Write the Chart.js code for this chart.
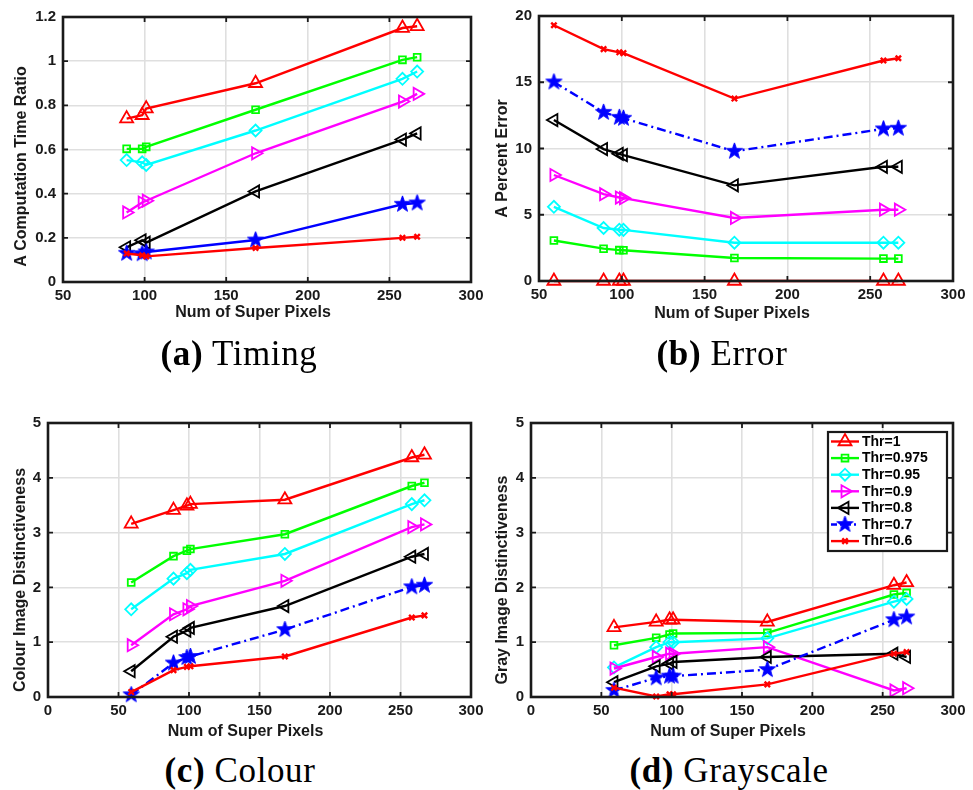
<!DOCTYPE html>
<html>
<head>
<meta charset="utf-8">
<script src="https://cdn.jsdelivr.net/npm/chart.js@4.4.1/dist/chart.umd.min.js"></script>
<style>
  html, body { margin: 0; padding: 0; background: #fff; }
  #page { position: relative; width: 973px; height: 790px; overflow: hidden; background: #fff; }
  #page canvas { position: absolute; }
  .cap {
    position: absolute;
    font-family: 'Liberation Serif', 'Times New Roman', serif;
    font-size: 35px;
    letter-spacing: 0.6px;
    line-height: 40px;
    color: #000;
    white-space: nowrap;
    transform: translateX(-50%);
  }
</style>
</head>
<body>
<div id="page">
  <canvas id="timingChart" width="490" height="340" style="left:0px;top:0px"></canvas>
  <canvas id="errorChart" width="493" height="340" style="left:480px;top:0px"></canvas>
  <canvas id="colourChart" width="490" height="350" style="left:0px;top:400px"></canvas>
  <canvas id="grayChart" width="493" height="350" style="left:480px;top:400px"></canvas>
  <div class="cap" style="left:239px;top:334px"><b>(a)</b> Timing</div>
  <div class="cap" style="left:722px;top:334px"><b>(b)</b> Error</div>
  <div class="cap" style="left:240px;top:751px"><b>(c)</b> Colour</div>
  <div class="cap" style="left:729px;top:751px"><b>(d)</b> Grayscale</div>
</div>
<script>
// number of super pixels on the x axis
const superPixels = [59, 89, 98.5, 101, 168, 258, 267];
const timingPixels = superPixels.slice(1);   // timing runs skip the smallest size

const thrLabels = ['Thr=1', 'Thr=0.975', 'Thr=0.95', 'Thr=0.9', 'Thr=0.8', 'Thr=0.7', 'Thr=0.6'];

// (a) computation time ratio
const timeThr1   = [0.74, 0.755, 0.785, 0.90, 1.15, 1.158];
const timeThr975 = [0.603, 0.603, 0.612, 0.78, 1.006, 1.018];
const timeThr95  = [0.552, 0.542, 0.53, 0.686, 0.92, 0.953];
const timeThr9   = [0.315, 0.36, 0.368, 0.583, 0.817, 0.852];
const timeThr8   = [0.157, 0.189, 0.178, 0.41, 0.645, 0.673];
const timeThr7   = [0.13, 0.128, 0.136, 0.19, 0.352, 0.358];
const timeThr6   = [0.129, 0.121, 0.116, 0.154, 0.2, 0.205];

// (b) percent error
const errThr1   = [0, 0, 0, 0, 0, 0, 0];
const errThr975 = [3.06, 2.44, 2.33, 2.32, 1.74, 1.69, 1.69];
const errThr95  = [5.6, 4.0, 3.87, 3.86, 2.89, 2.89, 2.89];
const errThr9   = [8.0, 6.55, 6.3, 6.25, 4.76, 5.38, 5.38];
const errThr8   = [12.15, 9.96, 9.6, 9.5, 7.22, 8.62, 8.62];
const errThr7   = [15.02, 12.73, 12.35, 12.28, 9.79, 11.48, 11.53];
const errThr6   = [19.3, 17.5, 17.26, 17.2, 13.77, 16.64, 16.81];

// (c) colour image distinctiveness
const colThr1   = [3.16, 3.41, 3.49, 3.52, 3.60, 4.37, 4.42];
const colThr975 = [2.09, 2.57, 2.67, 2.70, 2.97, 3.85, 3.91];
const colThr95  = [1.60, 2.16, 2.26, 2.32, 2.61, 3.52, 3.59];
const colThr9   = [0.945, 1.51, 1.60, 1.66, 2.12, 3.10, 3.15];
const colThr8   = [0.47, 1.10, 1.21, 1.26, 1.66, 2.56, 2.61];
const colThr7   = [0.04, 0.62, 0.72, 0.74, 1.23, 2.01, 2.04];
const colThr6   = [0.09, 0.49, 0.55, 0.56, 0.74, 1.45, 1.49];

// (d) gray image distinctiveness
const grayThr1   = [1.27, 1.37, 1.41, 1.41, 1.37, 2.04, 2.09];
const grayThr975 = [0.945, 1.08, 1.14, 1.16, 1.17, 1.87, 1.90];
const grayThr95  = [0.54, 0.91, 1.0, 1.0, 1.07, 1.74, 1.79];
const grayThr9   = [0.52, 0.73, 0.79, 0.79, 0.91, 0.12, 0.16];
const grayThr8   = [0.27, 0.56, 0.61, 0.64, 0.73, 0.79, 0.73];
const grayThr7   = [0.12, 0.35, 0.38, 0.38, 0.50, 1.41, 1.46];
const grayThr6   = [0.17, 0.01, 0.05, 0.05, 0.23, 0.79, 0.82];

const AXIS_COLOR = '#1a1a1a';
const GRID_COLOR = '#dfdfdf';
const TICK_FONT = { family: 'Liberation Sans', size: 15, weight: 'bold' };
const DASH_DOT = [9, 4, 2, 4];

// filled pentagram marker
function makeStar(r, color) {
  const c = document.createElement('canvas');
  const size = Math.ceil(r * 2 + 2);
  c.width = size; c.height = size;
  const g = c.getContext('2d');
  const cx = size / 2, cy = size / 2, inner = r * 0.4;
  g.beginPath();
  for (let k = 0; k < 10; k++) {
    const rr = k % 2 === 0 ? r : inner;
    const a = -Math.PI / 2 + k * Math.PI / 5;
    g.lineTo(cx + rr * Math.cos(a), cy + rr * Math.sin(a));
  }
  g.closePath();
  g.fillStyle = color;
  g.fill();
  g.lineWidth = 1;
  g.strokeStyle = color;
  g.stroke();
  return c;
}

const starMarker = makeStar(8.5, '#0000ff');

const seriesStyle = [
  { color: '#ff0000', pointStyle: 'triangle', rotation: 0,   radius: 7.5, bw: 1.8 },
  { color: '#00ff00', pointStyle: 'rect',     rotation: 0,   radius: 4.8, bw: 1.8 },
  { color: '#00ffff', pointStyle: 'rectRot',  rotation: 0,   radius: 6,   bw: 1.8 },
  { color: '#ff00ff', pointStyle: 'triangle', rotation: 90,  radius: 7,   bw: 1.8 },
  { color: '#000000', pointStyle: 'triangle', rotation: -90, radius: 7,   bw: 1.8 },
  { color: '#0000ff', pointStyle: starMarker, rotation: 0,   radius: 8,   bw: 1.5 },
  { color: '#ff0000', pointStyle: 'crossRot', rotation: 0,   radius: 3.8, bw: 2.4 }
];

function buildDatasets(xs, series, dashedStar) {
  return series.map((ys, i) => {
    const s = seriesStyle[i];
    return {
      label: thrLabels[i],
      data: ys.map((y, j) => ({ x: xs[j], y: y })),
      borderColor: s.color,
      backgroundColor: s.color,
      borderWidth: 2.4,
      borderDash: (dashedStar && i === 5) ? DASH_DOT : [],
      pointStyle: s.pointStyle,
      pointRotation: s.rotation,
      pointRadius: s.radius,
      pointHoverRadius: s.radius,
      pointBorderColor: s.color,
      pointBackgroundColor: i === 5 ? s.color : 'rgba(0,0,0,0)',
      pointBorderWidth: s.bw,
      tension: 0,
      clip: false,
      order: series.length - i   // later thresholds sit on top
    };
  });
}

// box, inward ticks, axis titles and (optionally) the legend
const framePlugin = {
  id: 'frame',
  afterDraw(chart, args, opts) {
    const { ctx, chartArea: a, scales: { x, y } } = chart;
    ctx.save();
    ctx.strokeStyle = AXIS_COLOR;
    ctx.lineWidth = 1.8;
    ctx.beginPath();
    x.ticks.forEach(t => {
      const px = x.getPixelForValue(t.value);
      ctx.moveTo(px, a.bottom); ctx.lineTo(px, a.bottom - 5);
      ctx.moveTo(px, a.top); ctx.lineTo(px, a.top + 5);
    });
    y.ticks.forEach(t => {
      const py = y.getPixelForValue(t.value);
      ctx.moveTo(a.left, py); ctx.lineTo(a.left + 5, py);
      ctx.moveTo(a.right, py); ctx.lineTo(a.right - 5, py);
    });
    ctx.stroke();
    ctx.lineWidth = 2.6;
    ctx.strokeRect(a.left, a.top, a.right - a.left, a.bottom - a.top);

    ctx.fillStyle = AXIS_COLOR;
    ctx.font = 'bold 16px "Liberation Sans"';
    ctx.textAlign = 'center';
    ctx.textBaseline = 'middle';
    const t = opts.titles;
    ctx.fillText(t.x, (a.left + a.right) / 2 + t.xdx, a.bottom + t.xdy);
    ctx.translate(a.left - t.ydx, (a.top + a.bottom) / 2 + t.ydy);
    ctx.rotate(-Math.PI / 2);
    ctx.fillText(t.y, 0, 0);
    ctx.restore();

    if (opts.legend) drawLegend(chart, a);
  }
};

function drawLegend(chart, a) {
  const ctx = chart.ctx;
  const left = a.right - 125, top = a.top + 9, w = 119, h = 119;
  ctx.save();
  ctx.fillStyle = '#ffffff';
  ctx.fillRect(left, top, w, h);
  ctx.lineWidth = 2.2;
  ctx.strokeStyle = AXIS_COLOR;
  ctx.strokeRect(left, top, w, h);
  ctx.font = 'bold 14px "Liberation Sans"';
  ctx.textBaseline = 'middle';
  ctx.textAlign = 'left';
  seriesStyle.forEach((s, i) => {
    const cy = top + 9.5 + i * 16.6;
    ctx.strokeStyle = s.color;
    ctx.lineWidth = 2.4;
    ctx.setLineDash(i === 5 ? [6, 3, 2, 3] : []);
    ctx.beginPath();
    ctx.moveTo(left + 3, cy);
    ctx.lineTo(left + 31, cy);
    ctx.stroke();
    ctx.setLineDash([]);
    ctx.fillStyle = i === 5 ? s.color : 'rgba(0,0,0,0)';
    ctx.lineWidth = s.bw;
    Chart.helpers.drawPoint(ctx, {
      pointStyle: s.pointStyle, rotation: s.rotation, radius: s.radius, borderWidth: s.bw
    }, left + 17, cy);
    ctx.fillStyle = '#000000';
    ctx.fillText(thrLabels[i], left + 34, cy + 0.5);
  });
  ctx.restore();
}

function makePanel(id, xs, series, cfg) {
  new Chart(document.getElementById(id), {
    type: 'line',
    data: { datasets: buildDatasets(xs, series, cfg.dashedStar) },
    options: {
      responsive: false,
      animation: false,
      events: [],
      layout: { padding: cfg.padding },
      plugins: {
        legend: { display: false },
        tooltip: { enabled: false },
        frame: { titles: cfg.titles, legend: !!cfg.legend }
      },
      scales: {
        x: {
          type: 'linear',
          min: cfg.xMin, max: 300,
          ticks: { stepSize: 50, color: AXIS_COLOR, font: TICK_FONT, padding: 5, maxRotation: 0, autoSkip: false },
          grid: { color: GRID_COLOR, lineWidth: 1.6, drawTicks: false },
          border: { display: false },
          afterFit: s => { s.height = 30; }
        },
        y: {
          type: 'linear',
          min: 0, max: cfg.yMax,
          ticks: {
            stepSize: cfg.yStep, color: AXIS_COLOR, font: TICK_FONT, padding: 7, autoSkip: false,
            callback: v => String(+v.toFixed(2))
          },
          grid: { color: GRID_COLOR, lineWidth: 1.6, drawTicks: false },
          border: { display: false },
          afterFit: s => { s.width = 45; }
        }
      }
    },
    plugins: [framePlugin]
  });
}

makePanel('timingChart', timingPixels,
  [timeThr1, timeThr975, timeThr95, timeThr9, timeThr8, timeThr7, timeThr6], {
    xMin: 50, yMax: 1.2, yStep: 0.2, dashedStar: false,
    padding: { left: 18, top: 17, right: 19, bottom: 28 },
    titles: { x: 'Num of Super Pixels', y: 'A Computation Time Ratio', xdx: -14, xdy: 31, ydx: 41, ydy: 17 }
  });

makePanel('errorChart', superPixels,
  [errThr1, errThr975, errThr95, errThr9, errThr8, errThr7, errThr6], {
    xMin: 50, yMax: 20, yStep: 5, dashedStar: true,
    padding: { left: 14, top: 13, right: 20, bottom: 29 },
    titles: { x: 'Num of Super Pixels', y: 'A Percent Error', xdx: -14, xdy: 33, ydx: 36, ydy: 10 }
  });

makePanel('colourChart', superPixels,
  [colThr1, colThr975, colThr95, colThr9, colThr8, colThr7, colThr6], {
    xMin: 0, yMax: 5, yStep: 1, dashedStar: true,
    padding: { left: 3, top: 23, right: 19, bottom: 23 },
    titles: { x: 'Num of Super Pixels', y: 'Colour Image Distinctiveness', xdx: -14, xdy: 35, ydx: 27, ydy: 20 }
  });

makePanel('grayChart', superPixels,
  [grayThr1, grayThr975, grayThr95, grayThr9, grayThr8, grayThr7, grayThr6], {
    xMin: 0, yMax: 5, yStep: 1, dashedStar: true, legend: true,
    padding: { left: 6, top: 23, right: 20, bottom: 23 },
    titles: { x: 'Num of Super Pixels', y: 'Gray Image Distinctiveness', xdx: -14, xdy: 35, ydx: 28, ydy: 20 }
  });
</script>
</body>
</html>
